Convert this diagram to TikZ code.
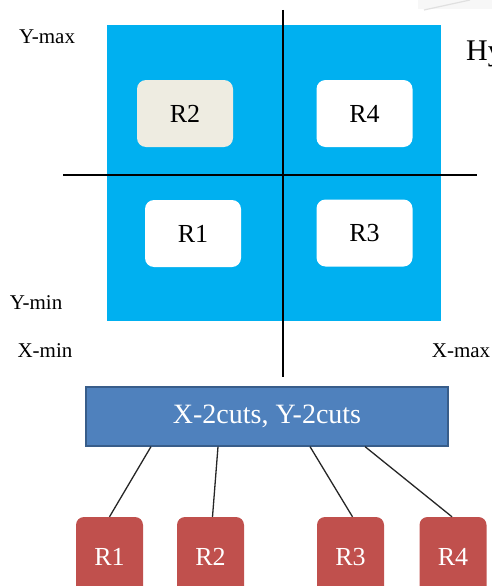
\documentclass[tikz,border=0pt]{standalone}
\usepackage{fontspec}
\setmainfont{Liberation Serif}
\definecolor{skyblue}{HTML}{00B0F0}
\definecolor{paper}{HTML}{EEECE1}
\definecolor{barblue}{HTML}{4F81BD}
\definecolor{barline}{HTML}{385D8A}
\definecolor{leafred}{HTML}{C0504D}
\tikzset{
  region/.style={rounded corners=9pt, minimum width=96pt, minimum height=67pt, inner sep=0pt, font=\fontsize{26}{26}\selectfont},
  leaf/.style={fill=leafred, rounded corners=8pt, minimum width=67pt, minimum height=80pt, inner sep=0pt, text=white, font=\fontsize{26}{26}\selectfont},
  axislabel/.style={inner sep=0pt, font=\fontsize{21}{21}\selectfont},
  cutline/.style={line width=1.2pt, black},
  link/.style={line width=1.3pt, black!85}
}
\begin{document}
\begin{tikzpicture}[x=1pt,y=-1pt]
\useasboundingbox (0,0) rectangle (492,586);
\clip (0,0) rectangle (492,586);
% faint decoration at top right
\fill[black!3] (418,0) rectangle (492,9);
\draw[black!12, line width=1.2pt] (424,10) -- (470,0);
% blue area
\fill[skyblue] (107,25) rectangle (441,321);
% regions
\node[region, fill=paper] (q2) at (185,113.5) {R2};
\node[region, fill=white] (q4) at (364.5,113.5) {R4};
\node[region, fill=white] (q1) at (193,233.5) {R1};
\node[region, fill=white] (q3) at (364.5,233) {R3};
% cut lines
\coordinate (vtop) at (283,10);
\coordinate (vbot) at (283,377);
\coordinate (hl) at (63,175);
\coordinate (hr) at (477,175);
\draw[cutline] (vtop) -- (vbot);
\draw[cutline] (hl) -- (hr);
% axis labels
\node[axislabel] (ymax) at (47,37) {Y-max};
\node[axislabel] (ymin) at (36,303) {Y-min};
\node[axislabel] (xmin) at (45,351) {X-min};
\node[axislabel] (xmax) at (461,351) {X-max};
\node[anchor=base west, inner sep=0pt, font=\fontsize{30}{30}\selectfont] (hy) at (466,60) {Hy};
% bar
\node[draw=barline, line width=1.2pt, fill=barblue, minimum width=362pt, minimum height=59pt, inner sep=0pt, text=white, font=\fontsize{28}{28}\selectfont] (bar) at (267,416.5) {X-2cuts, Y-2cuts};
% leaves
\node[leaf] (l1) at (109.5,557) {R1};
\node[leaf] (l2) at (210.5,557) {R2};
\node[leaf] (l3) at (350.5,557) {R3};
\node[leaf] (l4) at (453,557) {R4};
% links
\draw[link] ([xshift=-116pt]bar.south) -- ([xshift=0pt]l1.north);
\draw[link] ([xshift=-49pt]bar.south) -- ([xshift=2pt]l2.north);
\draw[link] ([xshift=43pt]bar.south) -- ([xshift=2pt]l3.north);
\draw[link] ([xshift=98pt]bar.south) -- ([xshift=-1pt]l4.north);
\end{tikzpicture}
\end{document}
